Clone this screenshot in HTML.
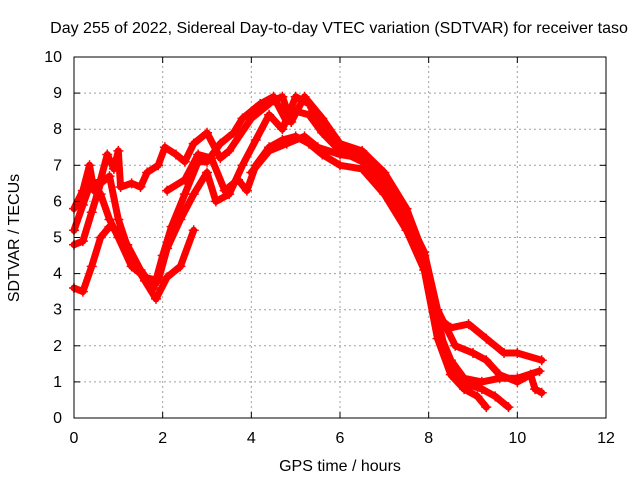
<!DOCTYPE html>
<html><head><meta charset="utf-8"><style>
body{margin:0;background:#fff;}
svg text{font-family:"Liberation Sans",sans-serif;font-size:16px;fill:#000;}
</style></head><body>
<svg id="chart" width="640" height="480" viewBox="0 0 640 480" xmlns="http://www.w3.org/2000/svg">
<rect width="640" height="480" fill="#fff"/>
<g id="grid"></g>
<g id="series"></g>
<rect x="74" y="57" width="532" height="361" fill="none" stroke="#000" stroke-width="1"/>
<g id="ticks"></g>
<text x="339" y="33" text-anchor="middle">Day 255 of 2022, Sidereal Day-to-day VTEC variation (SDTVAR) for receiver taso</text>
<text x="340" y="471" text-anchor="middle">GPS time / hours</text>
<text x="19" y="238" text-anchor="middle" transform="rotate(-90 19 238)">SDTVAR / TECUs</text>
</svg>
<script>
const xTicks=[0,2,4,6,8,10,12];
const yTicks=[0,1,2,3,4,5,6,7,8,9,10];
const s1=[[0,5.8],[0.2,6.3],[0.35,7.0],[0.45,6.3],[0.6,6.6],[0.75,7.3],[0.9,6.9],[1.0,7.4],[1.05,6.4],[1.3,6.5],[1.5,6.4],[1.65,6.8],[1.9,7.0],[2.05,7.5],[2.3,7.3],[2.5,7.1],[2.7,7.6],[3.0,7.9],[3.3,7.2],[3.5,7.4],[4.0,8.3],[4.5,8.8],[4.7,8.9],[4.9,8.2],[5.2,8.9],[5.6,8.3],[6.0,7.6],[6.5,7.4],[7.0,6.8],[7.5,5.8],[7.9,4.5],[8.2,2.8],[8.5,2.5],[8.9,2.6],[9.3,2.2],[9.7,1.8],[10.0,1.8],[10.55,1.6]];
const s2=[[0,4.8],[0.2,4.9],[0.4,5.7],[0.6,6.5],[0.8,6.7],[1.0,5.5],[1.3,4.4],[1.6,3.8],[1.85,3.3],[2.1,3.9],[2.4,4.2],[2.7,5.2]];
const s3=[[0,3.6],[0.2,3.5],[0.4,4.2],[0.6,5.0],[0.8,5.3],[1.0,5.2],[1.2,4.8],[1.5,4.1],[1.8,3.6],[2.0,4.5],[2.2,5.3],[2.5,6.2],[2.8,7.1],[3.0,7.1],[3.3,7.6],[3.6,7.9],[3.8,8.3],[4.2,8.7],[4.5,8.9],[4.8,8.2],[5.0,8.5],[5.3,8.4],[5.6,7.9],[6.0,7.4],[6.5,7.1],[7.0,6.4],[7.5,5.4],[7.9,4.3],[8.2,2.5],[8.5,1.6],[8.8,1.1],[9.2,1.0],[9.6,1.1],[10.0,1.1],[10.5,1.3]];
const s4=[[0,5.2],[0.2,5.9],[0.4,6.6],[0.6,6.2],[0.8,5.5],[1.0,5.0],[1.3,4.2],[1.6,3.9],[1.9,3.8],[2.1,4.7],[2.4,5.5],[2.7,6.2],[3.0,6.8],[3.2,6.0],[3.5,6.2],[3.8,7.0],[4.1,7.7],[4.4,8.4],[4.7,8.0],[5.0,8.9],[5.3,8.7],[5.6,8.0],[6.0,7.5],[6.5,7.2],[7.0,6.6],[7.5,5.6],[7.9,4.6],[8.2,3.0],[8.6,2.0],[9.0,1.8],[9.3,1.6],[9.6,1.2],[10.0,1.0],[10.3,1.2],[10.4,0.8],[10.55,0.7]];
const s5=[[2.1,6.3],[2.5,6.6],[2.8,7.3],[3.1,7.2],[3.4,6.3],[3.7,6.6],[3.9,6.3],[4.1,7.0],[4.4,7.5],[4.7,7.7],[5.0,7.8],[5.3,7.6],[5.6,7.3],[6.0,7.0],[6.5,6.9],[7.0,6.2],[7.5,5.2],[7.9,4.1],[8.2,2.2],[8.5,1.2],[8.8,0.8],[9.1,0.6],[9.3,0.3]];
const s6=[[4.0,6.8],[4.4,7.4],[4.8,7.6],[5.2,7.8],[5.5,7.5],[6.0,7.3],[6.5,7.2],[7.0,6.5],[7.5,5.5],[7.9,4.4],[8.2,2.8],[8.4,1.7],[8.7,1.0],[9.2,0.8],[9.5,0.6],[9.8,0.3]];
const allSeries=[s1,s2,s3,s4,s5,s6];
const NS="http://www.w3.org/2000/svg";
const X0=74,X1=606,Y0=418,Y1=57;
function sx(h){return X0+(h-0)/(12-0)*(X1-X0);}
function sy(v){return Y0-(v-0)/(10-0)*(Y0-Y1);}
function mk(tag,attrs,parent){const e=document.createElementNS(NS,tag);for(const k in attrs)e.setAttribute(k,attrs[k]);parent.appendChild(e);return e;}
const grid=document.getElementById('grid'),ticks=document.getElementById('ticks'),ser=document.getElementById('series');
xTicks.forEach(t=>{const x=sx(t);
 if(t>0&&t<12){const l=mk('line',{x1:x,y1:Y0,x2:x,y2:Y1,stroke:'#a0a0a0','stroke-dasharray':'2,3'},grid);
 
 }
 mk('line',{x1:x,y1:Y0,x2:x,y2:Y0-6,stroke:'#000'},ticks);
 mk('line',{x1:x,y1:Y1,x2:x,y2:Y1+6,stroke:'#000'},ticks);
 const tx=mk('text',{x:x,y:443,'text-anchor':'middle'},ticks);tx.textContent=t;
 
 
});
yTicks.forEach(t=>{const y=sy(t);
 if(t>0&&t<10){const l=mk('line',{x1:X0,y1:y,x2:X1,y2:y,stroke:'#a0a0a0','stroke-dasharray':'2,3'},grid);
 
 }
 mk('line',{x1:X0,y1:y,x2:X0+6,y2:y,stroke:'#000'},ticks);
 mk('line',{x1:X1,y1:y,x2:X1-6,y2:y,stroke:'#000'},ticks);
 const tx=mk('text',{x:62,y:y+5,'text-anchor':'end'},ticks);tx.textContent=t;
 
 
});
allSeries.forEach((s,i)=>{
 const g=mk('g',{},ser);
 
 
 const pts=s.map(p=>sx(p[0]).toFixed(1)+','+sy(p[1]).toFixed(1)).join(' ');
 const pl=mk('polyline',{points:pts,fill:'none',stroke:'#ff0000','stroke-width':7,'stroke-linejoin':'round','stroke-linecap':'round'},g);
 
 
 s.forEach(p=>{const x=sx(p[0]),y=sy(p[1]);
  const m=mk('path',{d:`M${x-5},${y}H${x+5}M${x},${y-5}V${y+5}`,stroke:'#ff0000','stroke-width':1.5},g);
  
  
 });
});
</script>
</body></html>
